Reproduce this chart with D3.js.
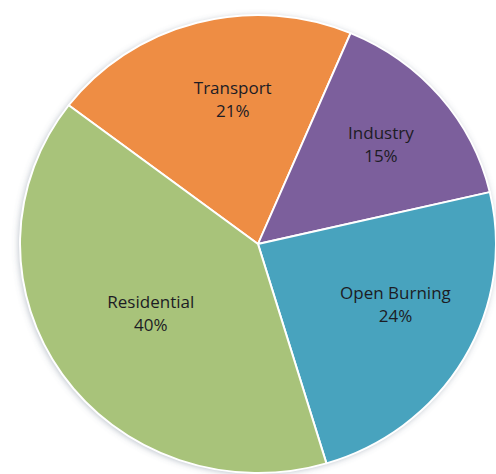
<!DOCTYPE html>
<html>
<head>
<meta charset="utf-8">
<script src="https://cdn.jsdelivr.net/npm/d3@7"></script>
<style>
  html, body { margin: 0; padding: 0; background: #fff; }
  svg { display: block; }
</style>
</head>
<body>
<svg id="chart"></svg>
<script>
const categories = ["Transport", "Industry", "Open Burning", "Residential"];
const shares = [21, 15, 24, 40];
const colors = ["#EE8D44", "#7C5F9C", "#48A3BE", "#A8C37A"];

const width = 496;
const height = 474;
const cx = 258, cy = 244;
const rx = 238, ry = 229;

const svg = d3.select("#chart")
  .attr("width", width)
  .attr("height", height);

const defs = svg.append("defs");
const shadow = defs.append("filter")
  .attr("id", "shadow")
  .attr("x", "-10%").attr("y", "-10%")
  .attr("width", "120%").attr("height", "120%");
shadow.append("feDropShadow")
  .attr("dx", -1).attr("dy", 1)
  .attr("stdDeviation", 3.5)
  .attr("flood-color", "#5a6a80")
  .attr("flood-opacity", 0.45);

const data = categories.map((c, i) => ({ label: c, value: shares[i], color: colors[i] }));

const pie = d3.pie()
  .value(d => d.value)
  .sort(null)
  .startAngle(-52.7 * Math.PI / 180)
  .endAngle((360 - 52.7) * Math.PI / 180);

const arcs = pie(data);

const arc = d3.arc().innerRadius(0).outerRadius(rx);
const labelArc = d3.arc().innerRadius(145).outerRadius(145);

// scaled group makes the pie slightly oval, like the reference
const g = svg.append("g")
  .attr("transform", `translate(${cx},${cy}) scale(1,${ry / rx})`);

g.append("ellipse")
  .attr("rx", rx).attr("ry", rx)
  .attr("fill", "#fff")
  .attr("filter", "url(#shadow)");

g.selectAll("path.slice")
  .data(arcs)
  .enter()
  .append("path")
  .attr("class", "slice")
  .attr("d", arc)
  .attr("fill", d => d.data.color)
  .attr("stroke", "#fff")
  .attr("stroke-width", 2)
  .attr("stroke-linejoin", "round");

// labels sit a little right of the centroids in the original
const labels = svg.append("g")
  .attr("transform", `translate(${cx + 12},${cy})`);

labels.selectAll("text")
  .data(arcs)
  .enter()
  .append("text")
  .attr("transform", d => {
    const c = labelArc.centroid(d);
    return `translate(${c[0]},${c[1] * ry / rx})`;
  })
  .attr("text-anchor", "middle")
  .attr("fill", "#1c1c24")
  .style("font-family", "'Open Sans', sans-serif")
  .style("font-size", "17px")
  .each(function (d) {
    const t = d3.select(this);
    t.append("tspan").attr("x", 0).attr("dy", "-0.9em").text(d.data.label);
    t.append("tspan").attr("x", 0).attr("dy", "1.37em").text(d.data.value + "%");
  });
</script>
</body>
</html>
